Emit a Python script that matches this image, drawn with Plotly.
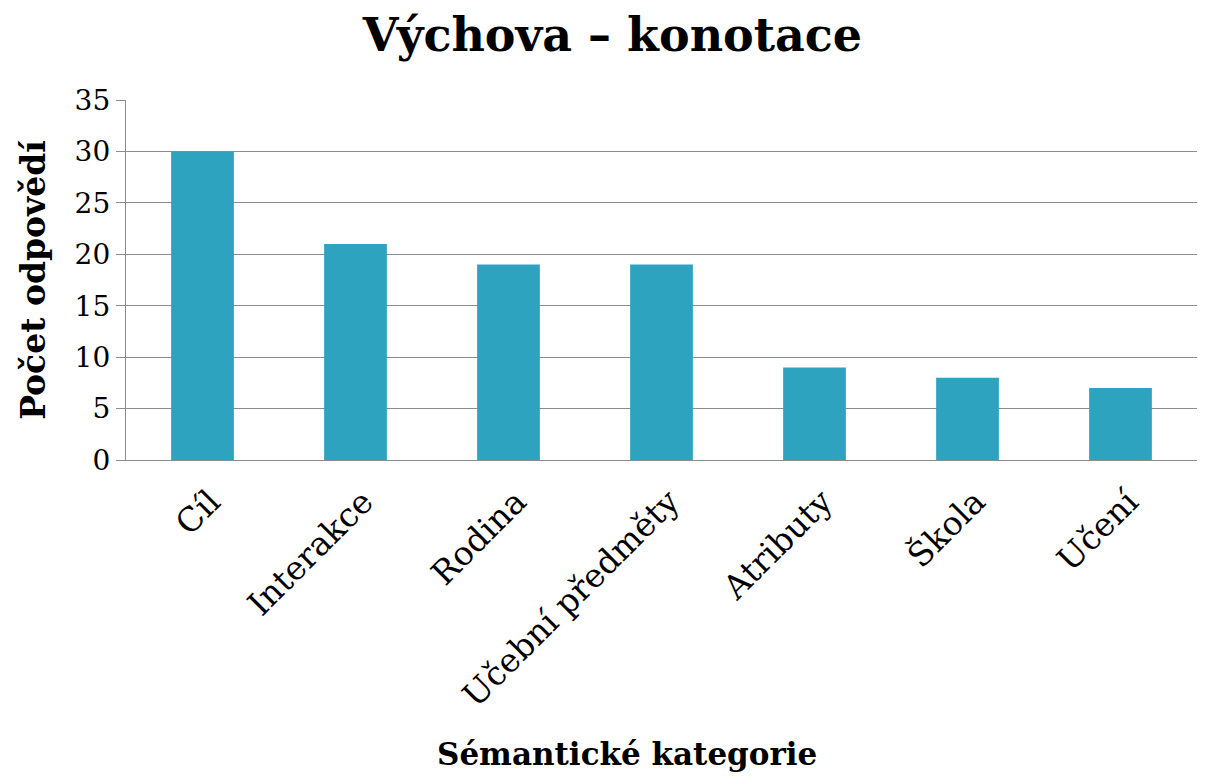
import plotly.graph_objects as go

categories = ["Cíl", "Interakce", "Rodina", "Učební předměty", "Atributy", "Škola", "Učení"]
values = [30, 21, 19, 19, 9, 8, 7]
y_ticks = [0, 5, 10, 15, 20, 25, 30, 35]

FONT = "DejaVu Serif"

fig = go.Figure(go.Bar(x=categories, y=values, marker=dict(color="#2DA3BF", line=dict(width=0))))

fig.update_layout(
    width=1209, height=776,
    paper_bgcolor="white", plot_bgcolor="white",
    margin=dict(l=118, r=20, t=92, b=324, autoexpand=False),
    bargap=0.59,
    font=dict(family=FONT, color="black"),
    title=dict(text="<b>Výchova – konotace</b>", x=0.5, xanchor="center", y=0.965, yanchor="middle",
               font=dict(family=FONT, size=46, color="black")),
    showlegend=False,
    annotations=[dict(
        text="<b>Sémantické kategorie</b>", xref="paper", yref="paper",
        x=0.468, y=-0.817, xanchor="center", yanchor="middle", showarrow=False,
        font=dict(family=FONT, size=31, color="black"),
    )],
)
fig.update_yaxes(
    range=[0, 35], tickvals=y_ticks, showgrid=True, gridcolor="#8c8c8c", gridwidth=1.3,
    showline=True, linecolor="#8c8c8c", linewidth=1.3,
    ticks="outside", ticklen=9, tickcolor="#8c8c8c", tickwidth=1.3,
    tickfont=dict(family=FONT, size=28, color="black"),
    title=dict(text="<b>Počet odpovědí</b>", font=dict(family=FONT, size=33, color="black"), standoff=19),
    zeroline=False, automargin=False,
)
fig.update_xaxes(
    showline=True, linecolor="#8c8c8c", linewidth=1.3, showgrid=False,
    tickangle=-45, tickfont=dict(family=FONT, size=33, color="black"),
    ticks="", ticklen=0, automargin=False,
    ticklabelshift=8, ticklabelstandoff=8,
)
fig.write_html("out.html")
